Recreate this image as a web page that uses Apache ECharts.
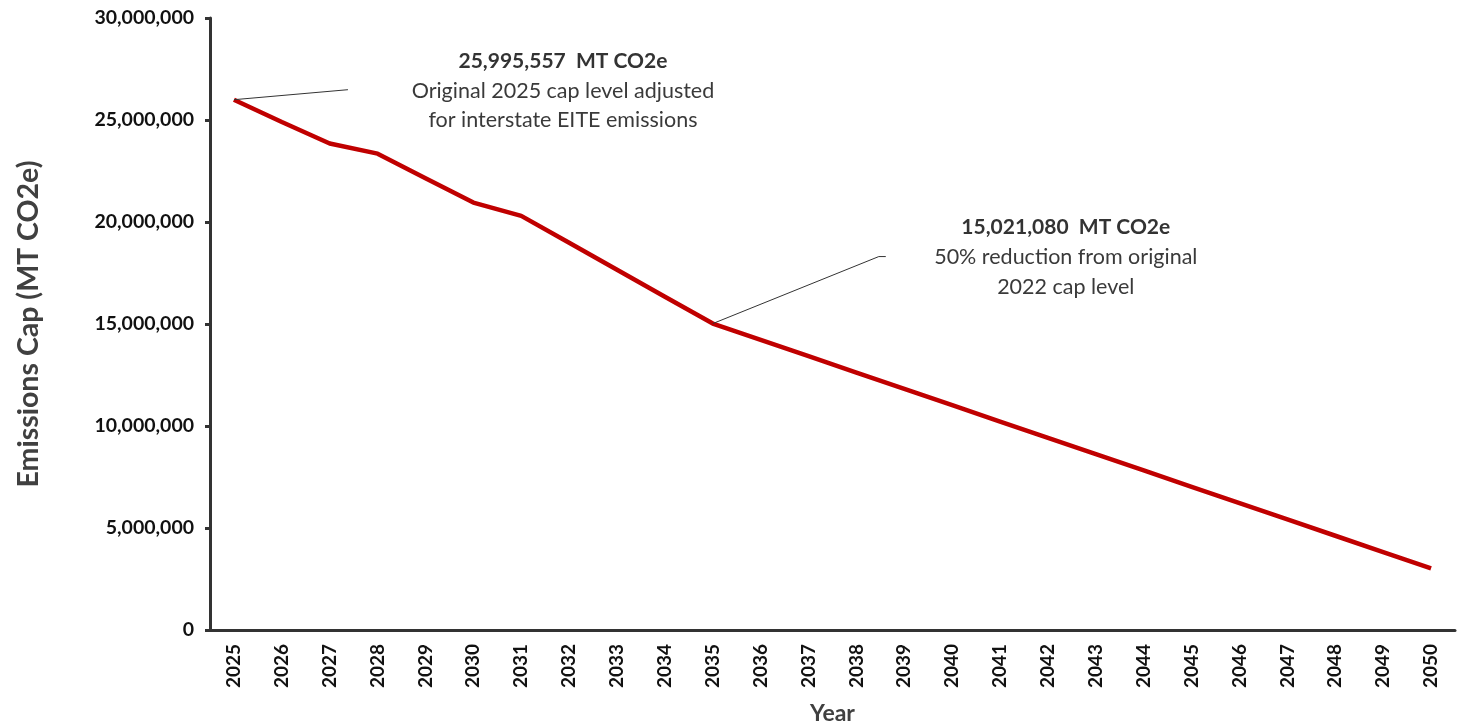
<!DOCTYPE html>
<html><head><meta charset="utf-8">
<script src="https://cdn.jsdelivr.net/npm/echarts@6/dist/echarts.min.js"></script>
<style>html,body{margin:0;padding:0;background:#fff}#c{width:1468px;height:725px}</style>
</head><body><div id="c"></div>
<script>
const years = ['2025','2026','2027','2028','2029','2030','2031','2032','2033','2034','2035','2036','2037','2038','2039','2040','2041','2042','2043','2044','2045','2046','2047','2048','2049','2050'];
const caps = [25995557,24900000,23850000,23350000,22150000,20950000,20300000,18980000,17660000,16340000,15021080,14220000,13420000,12620000,11820000,11020000,10220000,9420000,8620000,7820000,7020000,6220000,5420000,4620000,3820000,3020000];
const yTicks = {min:0, max:30000000, interval:5000000};
const note1 = {idx:0, title:'25,995,557  MT CO2e', lines:['Original 2025 cap level adjusted','for interstate EITE emissions']};
const note2 = {idx:10, title:'15,021,080  MT CO2e', lines:['50% reduction from original','2022 cap level']};

const FONT = 'Lato';
const chart = echarts.init(document.getElementById('c'));
chart.setOption({
  animation:false,
  grid:{left:210, right:13, top:18, bottom:95, containLabel:false, outerBoundsMode:'none'},
  xAxis:{
    type:'category', data:years, boundaryGap:true,
    name:'Year', nameLocation:'middle', nameGap:72,
    nameTextStyle:{fontFamily:FONT, fontWeight:'bold', fontSize:23, color:'#404040'},
    axisLine:{lineStyle:{color:'#333', width:3}},
    axisTick:{show:false},
    axisLabel:{rotate:90, margin:14, fontFamily:FONT, fontWeight:'bold', fontSize:19, color:'#111'}
  },
  yAxis:{
    type:'value', min:yTicks.min, max:yTicks.max, interval:yTicks.interval,
    name:'Emissions Cap (MT CO2e)', nameLocation:'middle', nameGap:167, nameRotate:90,
    nameTextStyle:{fontFamily:FONT, fontWeight:'bold', fontSize:28.5, color:'#404040'},
    axisLine:{show:true, lineStyle:{color:'#333', width:3}},
    axisTick:{show:true, length:5, lineStyle:{color:'#333', width:3}},
    splitLine:{show:false},
    axisLabel:{margin:16, fontFamily:FONT, fontWeight:'bold', fontSize:19.5, color:'#111',
      formatter:v=>v.toLocaleString('en-US')}
  },
  series:[{type:'line', data:caps, symbol:'none', lineStyle:{color:'#C00000', width:4.5}}]
});

function noteGraphics(note, lineEnd, hook, textDx, titleDy, lineH){
  const p = chart.convertToPixel({seriesIndex:0}, [note.idx, caps[note.idx]]);
  const pts = [[p[0], p[1]], [p[0]+lineEnd[0], p[1]+lineEnd[1]]];
  if (hook) pts.push([p[0]+lineEnd[0]+hook, p[1]+lineEnd[1]]);
  const els = [{type:'polyline', shape:{points:pts}, style:{stroke:'#333', lineWidth:1, fill:null}, z:10}];
  els.push({type:'text', x:p[0]+textDx, y:p[1]+titleDy, style:{text:note.title, fontFamily:FONT, fontWeight:'bold', fontSize:21, fill:'#333', align:'center', verticalAlign:'middle'}, z:10});
  note.lines.forEach((t,i)=>{
    els.push({type:'text', x:p[0]+textDx, y:p[1]+titleDy+lineH*(i+1), style:{text:t, fontFamily:FONT, fontSize:21.5, fill:'#3a3a3a', align:'center', verticalAlign:'middle'}, z:10});
  });
  return els;
}
chart.setOption({graphic:[
  ...noteGraphics(note1, [114,-10], 0, 329, -38, 29),
  ...noteGraphics(note2, [166,-67], 7, 353, -96, 29.5)
]});
</script></body></html>
